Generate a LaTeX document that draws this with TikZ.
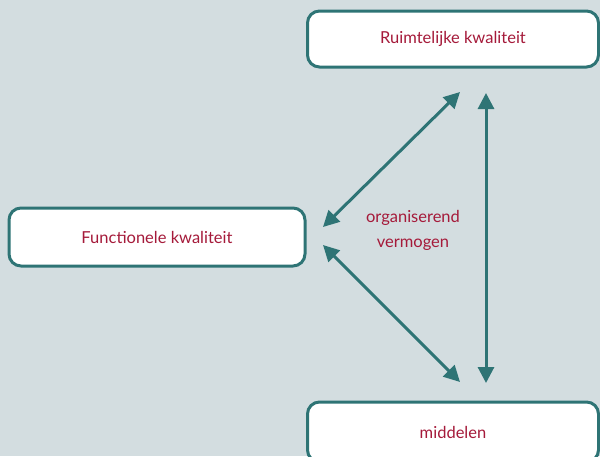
\documentclass[tikz,border=0pt]{standalone}
\usepackage{fontspec}
\setmainfont{Lato}
\usetikzlibrary{arrows.meta}
\definecolor{bgcol}{HTML}{D3DDE0}
\definecolor{tealc}{HTML}{2E7475}
\definecolor{redc}{HTML}{A51A3A}
\tikzset{
  box/.style={draw=tealc, line width=3pt, fill=white, rounded corners=12pt,
    text=redc, font=\fontsize{16.5}{20}\selectfont, inner sep=0pt},
  link/.style={draw=tealc, line width=3pt,
    {Triangle[length=16pt,width=16pt]}-{Triangle[length=16pt,width=16pt]}},
  note/.style={text=redc, font=\fontsize{16.5}{25}\selectfont, align=center}
}
\begin{document}
\begin{tikzpicture}[x=1pt,y=-1pt]
  \useasboundingbox (0,0) rectangle (600,456);
  \clip (0,0) rectangle (600,456);
  \fill[bgcol] (0,0) rectangle (600,456);
  % the three qualities
  \node[box, minimum width=291pt, minimum height=56pt] (ruimte) at (453,39) {Ruimtelijke kwaliteit};
  \node[box, minimum width=296pt, minimum height=58pt] (functie) at (157,237) {Functionele kwaliteit};
  \node[box, minimum width=291pt, minimum height=60pt] (middel) at (453,432) {middelen};
  % free ends of the connectors
  \coordinate (fa) at (323,227);
  \coordinate (ra) at (460,92);
  \coordinate (fb) at (323,245);
  \coordinate (mb) at (460,382);
  \coordinate (rv) at (486,93);
  \coordinate (mv) at (486,383);
  \draw[link] (fa) -- (ra);
  \draw[link] (fb) -- (mb);
  \draw[link] (rv) -- (mv);
  \node[note] (org) at (413,230) {organiserend\\vermogen};
\end{tikzpicture}
\end{document}
